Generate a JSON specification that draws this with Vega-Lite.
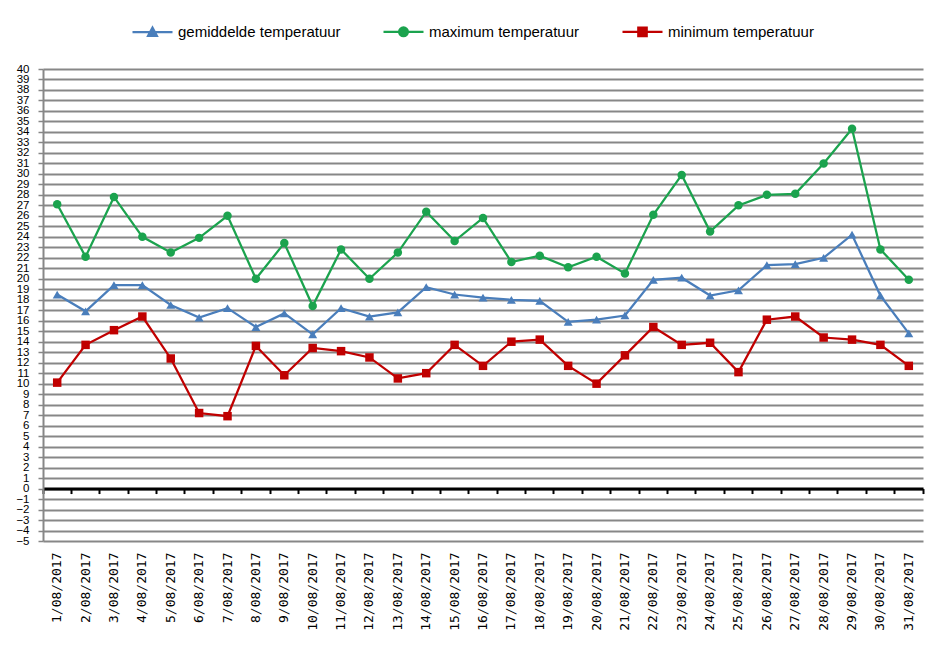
{
  "$schema": "https://vega.github.io/schema/vega-lite/v6.json",
  "autosize": {"type": "none"},
  "width": 880,
  "height": 472,
  "padding": {"left": 43, "top": 69, "right": 24, "bottom": 106},
  "background": "white",
  "config": {"view": {"stroke": null}},
  "data": {"values": [
    {"d": "1/08/2017", "gemiddelde temperatuur": 18.5, "maximum temperatuur": 27.1, "minimum temperatuur": 10.1},
    {"d": "2/08/2017", "gemiddelde temperatuur": 16.9, "maximum temperatuur": 22.1, "minimum temperatuur": 13.7},
    {"d": "3/08/2017", "gemiddelde temperatuur": 19.4, "maximum temperatuur": 27.8, "minimum temperatuur": 15.1},
    {"d": "4/08/2017", "gemiddelde temperatuur": 19.4, "maximum temperatuur": 24.0, "minimum temperatuur": 16.4},
    {"d": "5/08/2017", "gemiddelde temperatuur": 17.5, "maximum temperatuur": 22.5, "minimum temperatuur": 12.4},
    {"d": "6/08/2017", "gemiddelde temperatuur": 16.3, "maximum temperatuur": 23.9, "minimum temperatuur": 7.2},
    {"d": "7/08/2017", "gemiddelde temperatuur": 17.2, "maximum temperatuur": 26.0, "minimum temperatuur": 6.9},
    {"d": "8/08/2017", "gemiddelde temperatuur": 15.4, "maximum temperatuur": 20.0, "minimum temperatuur": 13.6},
    {"d": "9/08/2017", "gemiddelde temperatuur": 16.7, "maximum temperatuur": 23.4, "minimum temperatuur": 10.8},
    {"d": "10/08/2017", "gemiddelde temperatuur": 14.7, "maximum temperatuur": 17.4, "minimum temperatuur": 13.4},
    {"d": "11/08/2017", "gemiddelde temperatuur": 17.2, "maximum temperatuur": 22.8, "minimum temperatuur": 13.1},
    {"d": "12/08/2017", "gemiddelde temperatuur": 16.4, "maximum temperatuur": 20.0, "minimum temperatuur": 12.5},
    {"d": "13/08/2017", "gemiddelde temperatuur": 16.8, "maximum temperatuur": 22.5, "minimum temperatuur": 10.5},
    {"d": "14/08/2017", "gemiddelde temperatuur": 19.2, "maximum temperatuur": 26.4, "minimum temperatuur": 11.0},
    {"d": "15/08/2017", "gemiddelde temperatuur": 18.5, "maximum temperatuur": 23.6, "minimum temperatuur": 13.7},
    {"d": "16/08/2017", "gemiddelde temperatuur": 18.2, "maximum temperatuur": 25.8, "minimum temperatuur": 11.7},
    {"d": "17/08/2017", "gemiddelde temperatuur": 18.0, "maximum temperatuur": 21.6, "minimum temperatuur": 14.0},
    {"d": "18/08/2017", "gemiddelde temperatuur": 17.9, "maximum temperatuur": 22.2, "minimum temperatuur": 14.2},
    {"d": "19/08/2017", "gemiddelde temperatuur": 15.9, "maximum temperatuur": 21.1, "minimum temperatuur": 11.7},
    {"d": "20/08/2017", "gemiddelde temperatuur": 16.1, "maximum temperatuur": 22.1, "minimum temperatuur": 10.0},
    {"d": "21/08/2017", "gemiddelde temperatuur": 16.5, "maximum temperatuur": 20.5, "minimum temperatuur": 12.7},
    {"d": "22/08/2017", "gemiddelde temperatuur": 19.9, "maximum temperatuur": 26.1, "minimum temperatuur": 15.4},
    {"d": "23/08/2017", "gemiddelde temperatuur": 20.1, "maximum temperatuur": 29.9, "minimum temperatuur": 13.7},
    {"d": "24/08/2017", "gemiddelde temperatuur": 18.4, "maximum temperatuur": 24.5, "minimum temperatuur": 13.9},
    {"d": "25/08/2017", "gemiddelde temperatuur": 18.9, "maximum temperatuur": 27.0, "minimum temperatuur": 11.1},
    {"d": "26/08/2017", "gemiddelde temperatuur": 21.3, "maximum temperatuur": 28.0, "minimum temperatuur": 16.1},
    {"d": "27/08/2017", "gemiddelde temperatuur": 21.4, "maximum temperatuur": 28.1, "minimum temperatuur": 16.4},
    {"d": "28/08/2017", "gemiddelde temperatuur": 22.0, "maximum temperatuur": 31.0, "minimum temperatuur": 14.4},
    {"d": "29/08/2017", "gemiddelde temperatuur": 24.2, "maximum temperatuur": 34.3, "minimum temperatuur": 14.2},
    {"d": "30/08/2017", "gemiddelde temperatuur": 18.4, "maximum temperatuur": 22.8, "minimum temperatuur": 13.7},
    {"d": "31/08/2017", "gemiddelde temperatuur": 14.8, "maximum temperatuur": 19.9, "minimum temperatuur": 11.7}
  ]},
  "transform": [
    {"fold": ["gemiddelde temperatuur", "maximum temperatuur", "minimum temperatuur"], "as": ["serie", "temp"]}
  ],
  "resolve": {"axis": {"x": "independent"}},
  "encoding": {
    "y": {
      "field": "temp", "type": "quantitative",
      "scale": {"domain": [-5, 40], "nice": false, "zero": false},
      "axis": {
        "title": null,
        "values": [-5,-4,-3,-2,-1,0,1,2,3,4,5,6,7,8,9,10,11,12,13,14,15,16,17,18,19,20,21,22,23,24,25,26,27,28,29,30,31,32,33,34,35,36,37,38,39,40],
        "labelFont": "Liberation Sans", "labelFontSize": 11.5, "labelColor": "black",
        "labelOverlap": false, "labelFlush": false, "labelBound": false,
        "labelPadding": 9,
        "grid": true, "gridColor": "#878787", "gridWidth": 2, "gridOpacity": 1,
        "domainColor": "#878787", "domainWidth": 2,
        "tickColor": "#878787", "tickSize": 5, "tickWidth": 1.5
      }
    },
    "color": {
      "field": "serie", "type": "nominal",
      "scale": {"domain": ["gemiddelde temperatuur", "maximum temperatuur", "minimum temperatuur"], "range": ["#4A7EBB", "#1BA34E", "#C00000"]},
      "legend": {
        "title": null, "orient": "none", "legendX": 88, "legendY": -59,
        "direction": "horizontal", "padding": 0, "labelLimit": 0,
        "symbolSize": 1600, "labelFont": "Liberation Sans", "labelFontSize": 15,
        "labelColor": "black", "labelOffset": 4, "columnPadding": 38,
        "encode": {"symbols": {"update": {
          "shape": {"signal": "datum.value === 'gemiddelde temperatuur' ? 'M-1,0H1M-0.22,0.19L0,-0.22L0.22,0.19Z' : datum.value === 'maximum temperatuur' ? 'M-1,0H1M0.22,0A0.22,0.22,0,1,1,-0.22,0A0.22,0.22,0,1,1,0.22,0Z' : 'M-1,0H1M-0.21,-0.21H0.21V0.21H-0.21Z'"},
          "fill": {"scale": "color", "field": "value"},
          "stroke": {"scale": "color", "field": "value"},
          "strokeWidth": {"value": 2.25},
          "opacity": {"value": 1},
          "fillOpacity": {"value": 1}
        }}}
      }
    }
  },
  "layer": [
    {
      "mark": {"type": "line", "strokeWidth": 2.25},
      "encoding": {
        "x": {
          "field": "d", "type": "ordinal", "sort": null,
          "scale": {"type": "band", "paddingInner": 0, "paddingOuter": 0},
          "axis": {
            "title": null, "orient": "bottom", "domain": false, "ticks": false, "grid": false,
            "labelAngle": -90, "labelFont": "DejaVu Sans Mono", "labelFontSize": 13,
            "labelColor": "black", "labelPadding": 11
          }
        }
      }
    },
    {
      "transform": [{"filter": "datum.serie === 'gemiddelde temperatuur'"}],
      "mark": {"type": "point", "shape": "triangle-up", "filled": true, "opacity": 1, "size": 80},
      "encoding": {
        "x": {
          "field": "d", "type": "ordinal", "sort": null,
          "axis": {
            "title": null, "orient": "bottom", "labels": false, "grid": false,
            "offset": -52.44,
            "domain": true, "domainColor": "black", "domainWidth": 3,
            "ticks": true, "tickColor": "black", "tickWidth": 2, "tickSize": 5,
            "bandPosition": 1, "tickExtra": true
          }
        }
      }
    },
    {
      "transform": [{"filter": "datum.serie === 'maximum temperatuur'"}],
      "mark": {"type": "point", "shape": "circle", "filled": true, "opacity": 1, "size": 72},
      "encoding": {
        "x": {"field": "d", "type": "ordinal", "sort": null, "axis": null}
      }
    },
    {
      "transform": [{"filter": "datum.serie === 'minimum temperatuur'"}],
      "mark": {"type": "point", "shape": "square", "filled": true, "opacity": 1, "size": 72},
      "encoding": {
        "x": {"field": "d", "type": "ordinal", "sort": null, "axis": null}
      }
    }
  ]
}
